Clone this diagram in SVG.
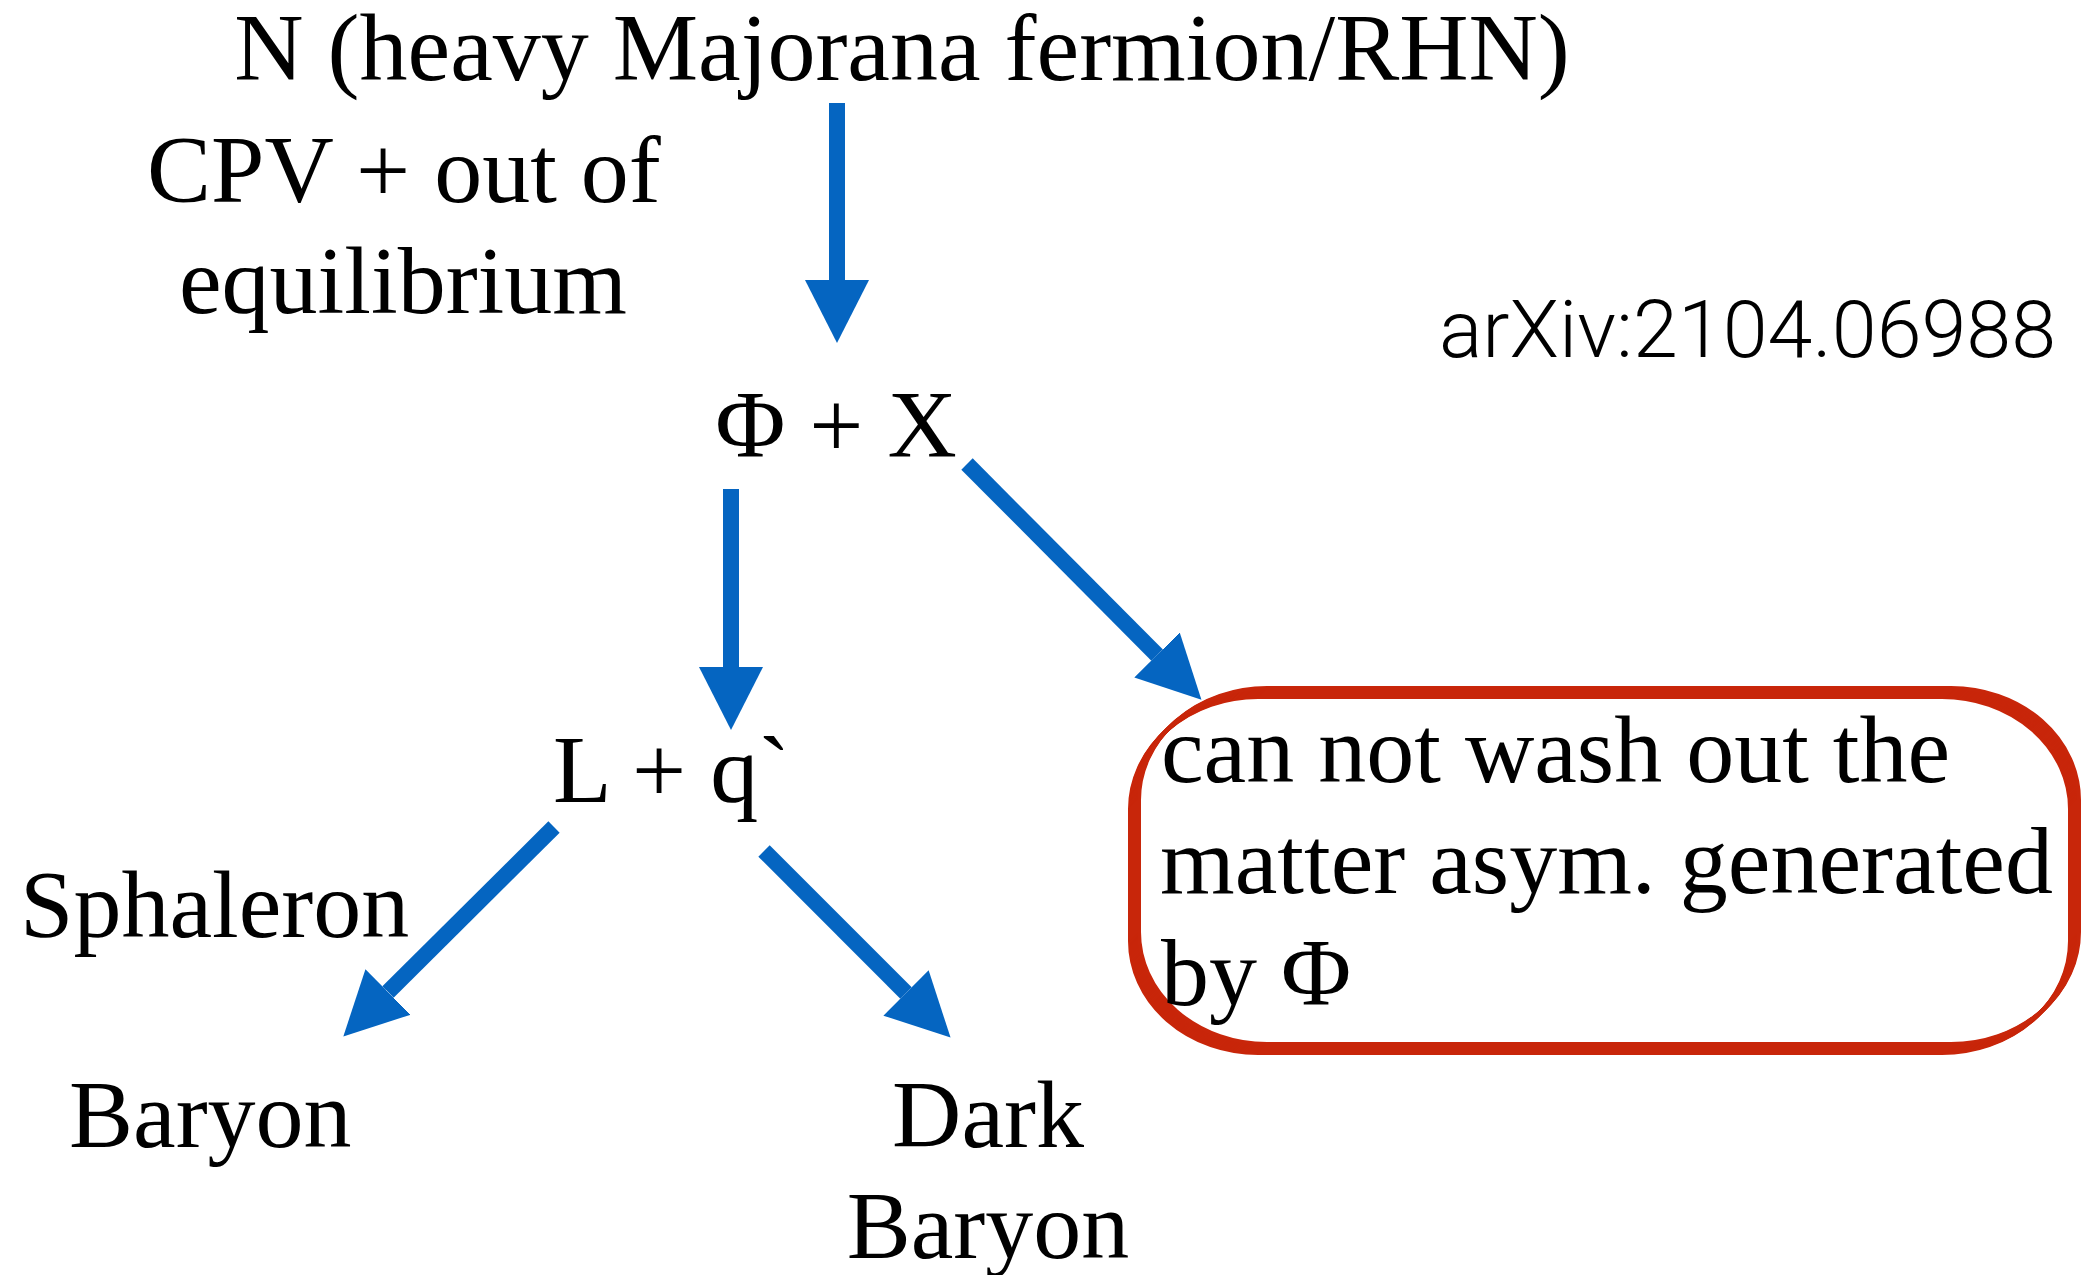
<svg xmlns="http://www.w3.org/2000/svg" xmlns:xlink="http://www.w3.org/1999/xlink" width="2090" height="1275" viewBox="0 0 2090 1275">
  <style>
    .serif { font-family: "Liberation Serif", "Times New Roman", serif; font-size: 96px; fill: #000; }
    .ref { font-family: Roboto, "Liberation Sans", sans-serif; font-weight: 300; font-size: 80px; fill: #000; }
    .flow { stroke: #0565C1; stroke-width: 16; fill: none; marker-end: url(#head); }
    .pen { fill: none; stroke: #C8260A; stroke-width: 4; }
  </style>
  <defs>
    <marker id="head" markerUnits="userSpaceOnUse" viewBox="0 0 63 64" markerWidth="63" markerHeight="64" refX="0" refY="32" orient="auto">
      <path d="M0,0 L63,32 L0,64 Z" fill="#0565C1"/>
    </marker>
    <!-- centre line of the note frame; repeated along a slanted nib for a brush look -->
    <rect id="frame" x="1130" y="697" width="940" height="356" rx="128" ry="112"/>
  </defs>

  <rect width="2090" height="1275" fill="#fff"/>

  <g id="connectors">
    <line class="flow" x1="837" y1="103" x2="837" y2="280"/>
    <line class="flow" x1="731" y1="489" x2="731" y2="667"/>
    <line class="flow" x1="967" y1="464" x2="1157" y2="655"/>
    <line class="flow" x1="554" y1="827" x2="388" y2="992"/>
    <line class="flow" x1="764" y1="851" x2="906" y2="993"/>
  </g>

  <g id="node-n">
    <text class="serif" x="902" y="80" text-anchor="middle">N (heavy Majorana fermion/RHN)</text>
  </g>

  <g id="label-cpv">
    <text class="serif" x="147" y="202">CPV + out of</text>
    <text class="serif" x="179" y="313">equilibrium</text>
  </g>

  <g id="node-phi-x">
    <text class="serif" x="836" y="457" text-anchor="middle">Φ + X</text>
  </g>

  <g id="node-l-q">
    <text class="serif" x="553" y="802">L + q`</text>
  </g>

  <g id="label-sphaleron">
    <text class="serif" x="20" y="937">Sphaleron</text>
  </g>

  <g id="node-baryon">
    <text class="serif" x="69" y="1147">Baryon</text>
  </g>

  <g id="node-dark-baryon">
    <text class="serif" x="988" y="1147" text-anchor="middle">Dark</text>
    <text class="serif" x="988" y="1258" text-anchor="middle">Baryon</text>
  </g>

  <g id="node-note">
    <g class="pen">
      <use xlink:href="#frame"/>
      <use xlink:href="#frame" transform="translate(1,-1)"/>
      <use xlink:href="#frame" transform="translate(2,-2)"/>
      <use xlink:href="#frame" transform="translate(3,-3)"/>
      <use xlink:href="#frame" transform="translate(4,-4)"/>
      <use xlink:href="#frame" transform="translate(5,-5)"/>
      <use xlink:href="#frame" transform="translate(6,-6)"/>
      <use xlink:href="#frame" transform="translate(7,-7)"/>
      <use xlink:href="#frame" transform="translate(8,-8)"/>
      <use xlink:href="#frame" transform="translate(9,-9)"/>
    </g>
    <text class="serif" x="1161" y="782">can not wash out the</text>
    <text class="serif" x="1160" y="893">matter asym. generated</text>
    <text class="serif" x="1161" y="1005">by Φ</text>
  </g>

  <g id="label-arxiv">
    <text class="ref" x="1439" y="357" textLength="617" lengthAdjust="spacingAndGlyphs">arXiv:2104.06988</text>
  </g>
</svg>
